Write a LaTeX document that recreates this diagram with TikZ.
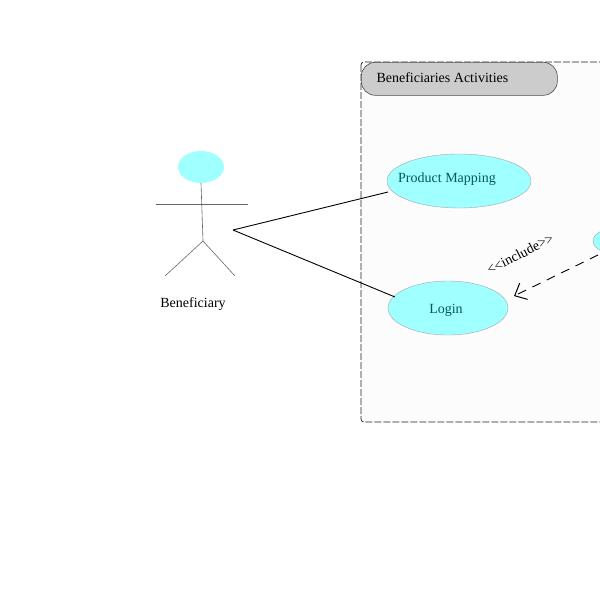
\documentclass[tikz,border=0pt]{standalone}
\usepackage{fontspec}
\setmainfont{Liberation Serif}
\usetikzlibrary{arrows.meta}
\definecolor{ucfill}{RGB}{160,255,255}
\definecolor{uctext}{RGB}{0,90,90}
\definecolor{sysfill}{RGB}{252,252,252}
\definecolor{hdrfill}{RGB}{204,204,204}
\tikzset{
  assoc/.style={draw=black, line width=0.9pt},
  limb/.style={draw=gray!80!black, line width=0.6pt},
}
\begin{document}
\begin{tikzpicture}[x=1pt,y=-1pt]
\useasboundingbox (0,0) rectangle (600,600);
\begin{scope}
\clip (0,0) rectangle (600,600);
% system boundary
\draw[dash pattern=on 7pt off 2pt, line width=0.7pt, draw=gray!25!black, fill=sysfill, rounded corners=3pt] (361,62) rectangle (640,422);
% header
\node[draw=gray!60!black, line width=0.6pt, fill=hdrfill, rounded corners=14pt, minimum width=196pt, minimum height=33pt, anchor=north west, inner sep=0pt] (hdr) at (361,62) {};
\node[anchor=west, font=\fontsize{14}{16}\selectfont] (hdrtext) at (373,78) {Beneficiaries Activities};
% use cases
\draw[draw=gray!70, fill=ucfill] (459,181) ellipse [x radius=72, y radius=27];
\node[text=uctext, font=\fontsize{14}{16}\selectfont] (pm) at (447,179) {Product Mapping};
\coordinate (pmL) at (388,192);
\draw[draw=gray!70, fill=ucfill] (448,308) ellipse [x radius=60, y radius=27];
\node[text=uctext, font=\fontsize{14}{16}\selectfont] (login) at (446,310) {Login};
\coordinate (loginL) at (395,297);
\draw[draw=gray!70, fill=ucfill] (625,241) ellipse [x radius=32, y radius=15];
\coordinate (other) at (598,255);
\coordinate (loginR) at (514,296);
% include
\draw[dash pattern=on 9pt off 7pt, line width=0.9pt, -{Straight Barb[length=10pt, width=18pt, line width=1pt]}] (other) -- (loginR);
\node[rotate=27, font=\fontsize{14}{16}\selectfont, text=black, inner sep=1pt] (incl) at (520,254) {\mbox{<}\mbox{<}include\mbox{>}\mbox{>}};
\end{scope}
% actor
\draw[draw=none, fill=ucfill] (201,167) ellipse [x radius=23, y radius=16];
\coordinate (neck) at (201,183);
\coordinate (hip) at (203,241);
\draw[limb] (156,204) -- (248,204);
\draw[limb] (neck) -- (hip);
\draw[limb] (hip) -- (165,276);
\draw[limb] (hip) -- (235,276);
\node[font=\fontsize{14}{16}\selectfont] (actor) at (193,304) {Beneficiary};
\coordinate (a) at (233,230);
% associations
\draw[assoc] (a) -- (pmL);
\draw[assoc] (a) -- (loginL);
\end{tikzpicture}
\end{document}
